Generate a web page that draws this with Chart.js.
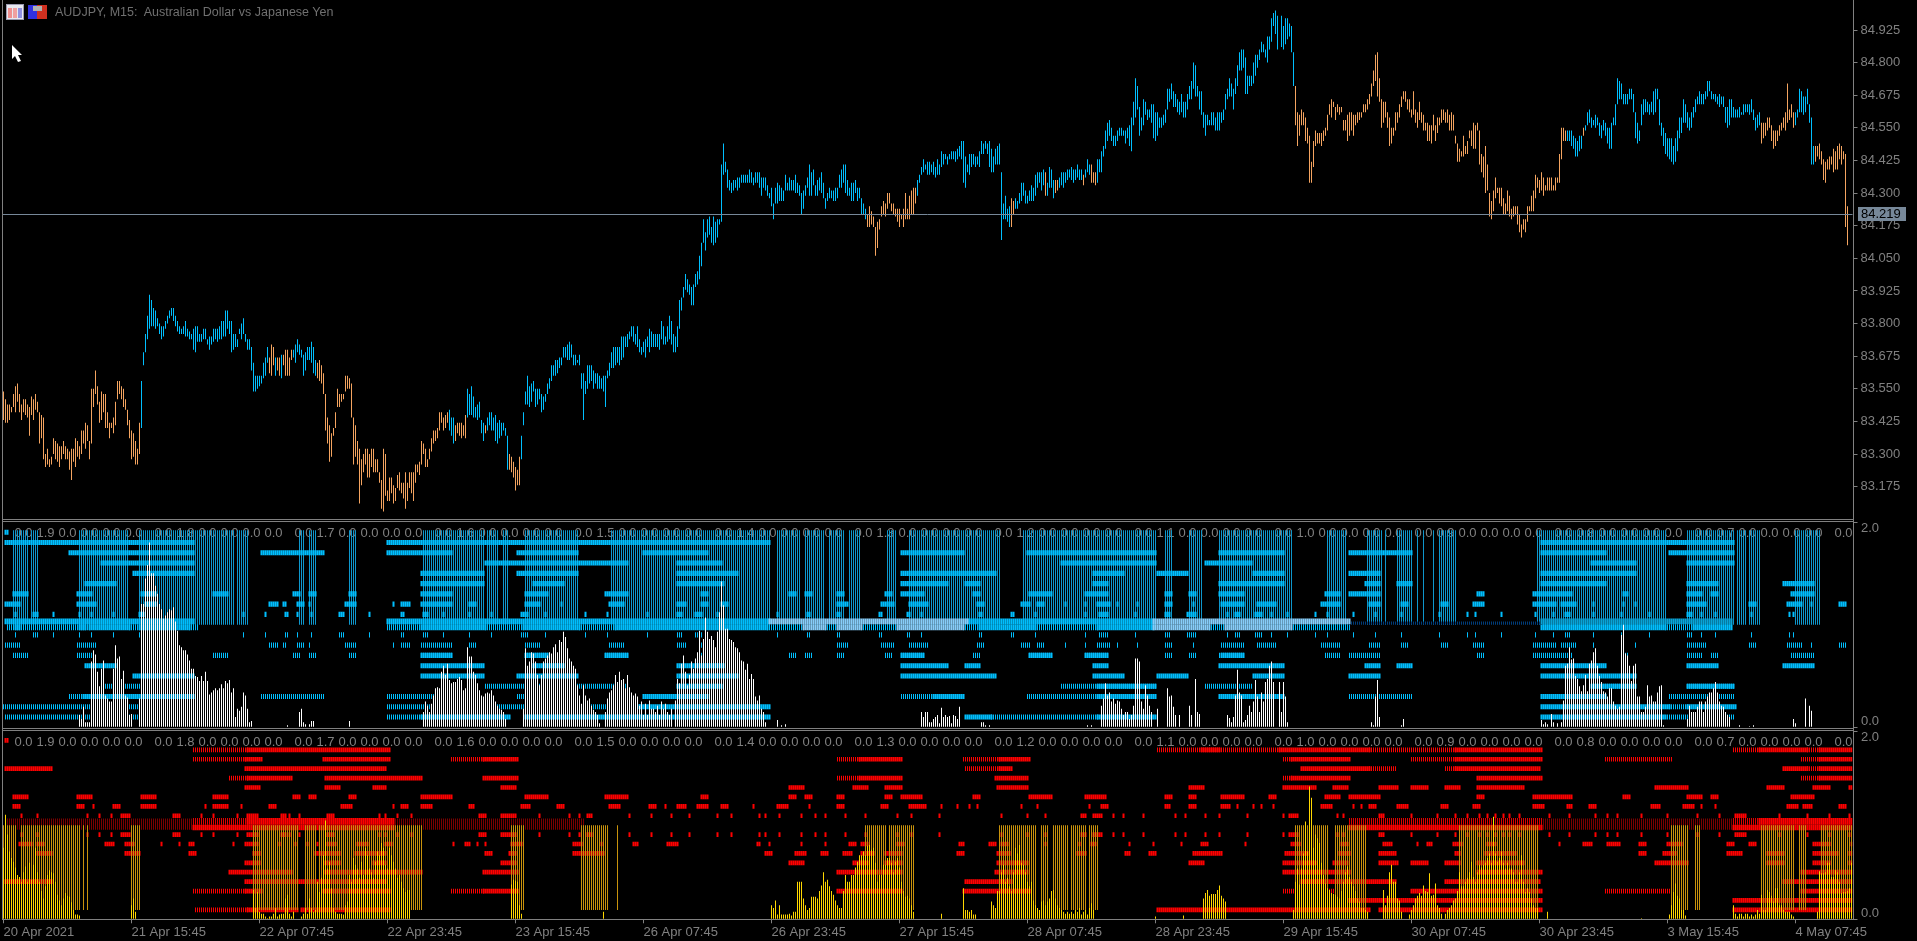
<!DOCTYPE html>
<html>
<head>
<meta charset="utf-8">
<title>AUDJPY M15</title>
<script src="https://cdn.jsdelivr.net/npm/chart.js@4"></script>
<style>
    html, body { margin: 0; background: #000; overflow: hidden; }
    canvas { position: absolute; left: 0; }
    .rule { position: absolute; background: #808080; z-index: 5; }
    .hr { left: 2px; width: 1851px; height: 1px; }
    .vr { top: 0; width: 1px; height: 919px; }
    #title { position: absolute; left: 55px; top: 5px; color: #707070; font: 12.5px 'Liberation Sans'; white-space: pre; z-index: 6; }
    svg { position: absolute; left: 0; top: 0; z-index: 6; }
</style>
</head>
<body>
<canvas id="priceChart" width="1917" height="519" style="top:0"></canvas>
<canvas id="blueChart" width="1917" height="206" style="top:522px"></canvas>
<canvas id="redChart" width="1917" height="210" style="top:731px"></canvas>
<div class="rule hr" style="top:519px"></div>
<div class="rule hr" style="top:521px"></div>
<div class="rule hr" style="top:728px"></div>
<div class="rule hr" style="top:730px"></div>
<div class="rule hr" style="top:919px"></div>
<div class="rule vr" style="left:2px"></div>
<div class="rule vr" style="left:1853px"></div>
<div id="title">AUDJPY, M15:  Australian Dollar vs Japanese Yen</div>
<svg width="60" height="70">
    <rect x="6.5" y="4.5" width="17" height="15" fill="#e8e8f0" stroke="#9a9ab0"/>
    <rect x="8" y="8" width="4" height="10" fill="#f09090"/><rect x="13" y="8" width="4" height="10" fill="#f0a0a0"/><rect x="18" y="8" width="4" height="10" fill="#9090e0"/>
    <rect x="28" y="5" width="9" height="14" fill="#3030e0"/><rect x="37" y="5" width="10" height="14" fill="#d03020"/><rect x="33" y="6" width="9" height="5" fill="#b0b0b0"/>
    <polygon points="12,45 12,59 15,56 18,62 21,61 18,55 22,55" fill="#fff"/>
</svg>
<script>
const barCount = 925;
const timeLabels = ['20 Apr 2021', '21 Apr 15:45', '22 Apr 07:45', '22 Apr 23:45', '23 Apr 15:45', '26 Apr 07:45', '26 Apr 23:45', '27 Apr 15:45', '28 Apr 07:45', '28 Apr 23:45', '29 Apr 15:45', '30 Apr 07:45', '30 Apr 23:45', '3 May 15:45', '4 May 07:45'];
const priceTicks = [84.925, 84.8, 84.675, 84.55, 84.425, 84.3, 84.175, 84.05, 83.925, 83.8, 83.675, 83.55, 83.425, 83.3, 83.175];
const lastPrice = 84.219;
const levelLabels = ['1.9', '1.8', '1.7', '1.6', '1.5', '1.4', '1.3', '1.2', '1.1', '1.0', '0.9', '0.8', '0.7'];

// high,low pairs per bar, in hundredths above 83.00
const priceA = [54,43,51,42,49,42,49,43,48,46,53,48,56,46,57,50,53,46,49,43,51,46,51,45,49,44,48,37,52,45,51,43,53,47,50,46,46,34,45,36,44,28,
30,25,32,26,28,25,29,26,36,30,35,28,34,27,33,25,33,28,35,30,33,28,32,28,31,24,32,20,32,27,36,25,35,29,33,28,39,30,39,34,42,32,
41,35,35,28,55,34,55,48,62,53,56,49,50,42,54,43,53,46,53,40,46,40,42,36,42,40,44,38,50,41,58,51,58,53,56,51,55,48,51,47,47,41,
43,36,39,28,38,29,35,26,32,26,42,30,58,40,69,64,76,69,83,74,91,78,89,79,86,79,85,78,82,79,80,76,79,74,79,75,81,78,83,80,85,82,86,83,86,81,83,79,81,77,79,76,78,76,79,76,81,75,78,75,77,74,76,74,78,70,79,69,79,73,76,73,76,73,78,74,78,74,74,72,75,70,75,72,78,73,78,74,78,73,79,74,81,74,81,75,85,75,85,78,81,76,81,69,76,70,76,71,74,71,78,76,80,74,82,76,76,73,74,70,74,70,71,62,65,54,60,54,60,55,60,56,60,57,65,59,67,60,71,65,67,61,72,60,71,64,67,60,67,62,67,60,68,59,68,64,70,60,70,60,67,60,70,66,70,67,72,65,74,69,72,68,70,67,68,60,69,62,71,66,71,66,73,65,71,61,66,60,65,59,66,58,64,57,61,53,53,39,44,34,41,27,38,29,40,37,46,40,55,48,53,48,53,50,53,51,60,54,60,55,59,55,57,44,44,26,41,29,35,26,32,11,28,18,30,23,32,26,32,21,30,21,32,25,32,23,28,23,28,23,23,19,20,9,32,8,30,14,16,12,21,12,21,15,18,11,17,12,22,17,23,16,19,15,19,13,23,9,19,12,23,17,23,15,23,12,26,19,26,23,27,22,35,26,34,30,32,25,28,25,32,28,36,31,39,34,39,35,40,36,46,39,46,42,44,39,45,40,46,42,47,39,44,37,44,34,41,35,42,38,42,37,42,36,41,37,45,36,55,44,53,45,56,45,52,44,48,44,49,43,50,44,43,38,42,35,41,38,44,39,46,41,46,39,44,39,45,35,42,34,43,36,42,37,42,39,40,37,37,24,30,24,29,23,27,21,25,16,24,18,29,18,37,28,46,41,54,49,60,49,56,48,57,50,58,54,55,48,55,49,55,51,53,46,52,47,53,50,57,53,59,55,64,58,64,60,66,60,66,61,67,63,67,64,71,67,71,67,72,66,73,66,72,67,68,64,68,64,66,65,68,64,61,55,61,43,58,53,64,55,64,57,64,58,62,55,61,57,61,55,60,55,59,55,60,54,60,48,62,59,65,60,69,63,71,63,71,64,71,65,71,64,75,66,75,67,75,71,76,71,77,74,79,75,79,73,76,72,79,71,74,69,73,69];
const priceB = [71,68,73,69,74,67,75,71,78,69,77,71,76,71,76,71,76,71,76,70,81,74,79,72,75,72,79,73,83,74,81,72,76,69,75,69,79,71,89,78,90,85,94,90,99,93,97,92,95,91,94,87,95,87,99,94,100,95,106,97,111,102,120,111,115,108,120,113,121,114,117,111,121,110,119,111,120,113,120,118,141,119,149,137,142,138,139,132,135,131,134,130,135,131,135,132,136,131,136,132,137,134,137,134,137,134,137,134,139,134,138,134,136,133,138,134,138,134,138,132,136,129,136,132,136,131,133,129,130,128,132,125,126,120,132,126,134,126,133,127,132,127,131,127,137,131,134,131,136,131,135,131,135,131,137,130,134,130,133,129,130,122,131,124,133,129,136,132,141,129,138,129,139,133,133,129,135,129,136,131,138,130,134,128,128,124,130,127,132,128,131,128,131,127,132,127,132,128,137,132,139,132,141,134,141,130,135,129,132,129,134,127,134,127,135,130,132,127,132,128,128,122,126,122,124,120,122,117,125,117,123,118,121,117,117,106,119,109,120,116,125,121,127,122,126,121,130,124,130,126,126,123,126,122,124,121,124,119,124,117,122,120,124,117,130,120,124,120,129,120,131,122,132,122,132,126,135,129,137,134,140,137,143,138,141,139,142,137,142,137,141,138,142,137,140,136,143,137,141,137,146,140,145,141,145,143,144,141,145,143,146,143,146,143,146,142,147,143,148,144,150,143,150,134,144,132,141,138,145,137,145,140,145,141,144,140,144,141,146,140,150,145,149,145,150,147,149,145,150,140,147,138,144,138,147,141,148,141,149,141,138,112,126,120,129,120,124,119,125,117,128,117,127,122,128,124,127,124,130,126,134,127,134,129,131,126,129,126,131,127,133,127,132,127,137,129,138,132,138,134,138,131,139,133,138,129,134,129,140,132,139,132,135,128,135,130,135,131,136,132,138,133,138,132,138,134,139,135,139,136,140,135,139,134,139,135,141,136,139,135,139,135,137,133,139,136,143,138,141,137,141,134,138,134,138,133,143,134,143,138,146,138,148,144,154,147,157,150,158,152,155,150,152,148,152,148,154,150,155,152,155,152,154,152,154,149,155,151,156,148,159,146,165,156,174,159,171,162,163,152,159,154,166,156,165,160,162,158,162,159,164,157,164,151,161,150,161,152,159,155,159,155,160,156,162,157,170,162,170,165,172,166,169,163,168,163,166,161,165,160,168,161,165,159,165,159,168,162,171,166,173,166,180,170,179,167,171,167,169,162,169,160,161,155,160,152,160,156,158,156,161,156,161,156,159,154,161,154,161,154,161,157,162,158,168,162,170,166,174,167,172,167,170,162,174,168,179,171,184,177,185,177,185,178,182,168,175,168,175,171,175,171,180,172,183,175,183,178,185,181,188,184,187,184,185,182,190,180,190,185,197,188,199,194,200,191,198,185];
const priceC = [198,186,194,185,197,187,197,189,195,190,194,184,184,171,171,156,161,148,160,152,162,156,161,156,159,150,155,149,152,134,142,134,150,140,154,148,153,149,153,149,153,148,154,150,155,152,160,154,164,160,166,159,165,163,163,158,164,161,163,160,163,161,158,154,158,154,160,150,161,152,161,154,160,152,160,156,161,157,161,158,161,159,164,161,164,161,166,162,168,164,172,167,177,171,183,173,184,167,174,165,166,155,165,157,165,159,161,155,159,148,155,149,155,152,161,154,161,157,164,159,167,163,169,166,169,165,166,162,166,161,162,159,169,160,162,157,161,155,165,158,161,157,160,154,157,154,157,150,156,150,156,149,160,154,156,150,159,153,159,156,162,157,162,158,161,157,162,157,160,154,161,154,160,154,152,149,149,142,147,142,146,144,152,144,148,145,150,145,154,151,154,148,157,147,156,147,157,154,154,141,145,138,144,136,148,130,141,131,130,121,127,120,131,123,136,128,132,130,132,126,132,125,128,122,126,122,131,123,129,121,124,120,125,121,125,122,125,118,122,115,118,113,120,116,120,115,125,119,125,123,129,123,131,123,137,128,136,132,135,130,138,131,136,129,133,131,136,131,136,131,136,131,133,131,136,131,136,134,145,134,155,143,155,150,154,150,154,150,154,150,154,148,152,147,151,144,150,144,152,146,152,147,155,152,156,154,161,156,162,157,159,155,158,156,160,155,159,156,157,152,156,151,158,154,157,152,155,149,155,147,157,147,159,156,164,156,174,164,173,166,172,166,168,164,168,164,168,164,170,166,170,166,168,161,161,151,157,149,154,150,164,156,166,160,166,161,165,161,164,160,165,161,169,160,170,161,170,166,166,156,157,152,155,148,153,145,151,144,151,143,151,142,148,141,151,142,154,146,159,151,159,153,166,157,164,157,161,155,159,154,161,155,163,159,166,161,167,164,169,164,168,164,168,164,169,166,173,167,173,169,169,166,168,166,168,165,167,164,168,163,167,164,167,163,163,157,163,155,166,156,166,159,163,159,162,159,162,159,163,159,161,160,164,160,164,161,164,161,164,160,166,161,162,158,159,154,160,155,161,156,157,149,157,151,157,152,159,154,159,155,156,150,154,147,154,148,154,150,156,152,157,154,159,155,161,154,172,157,162,158,164,159,161,155,161,156,162,159,170,161,169,161,167,160,167,161,170,164,164,157,159,141,148,141,148,142,148,144,149,143,146,141,143,135,142,134,143,139,144,139,144,141,147,138,146,139,148,139,149,143,148,141,146,143,145,117,125,110];
const orangeRuns = [0,68, 133,135, 137,138, 140,144, 157,222, 226,231, 241,241, 253,258, 432,456, 504,505, 521,521, 526,527, 540,540, 544,546, 646,781, 790,790, 879,895, 906,926];

// horizontal marks of the blue window, start,end bar pairs per level
const blue18 = [1,95, 192,383, 769,865];
const blue17 = [33,95, 129,160, 192,224, 257,287, 320,352, 449,480, 512,576, 608,640, 673,704, 769,801, 833,865];
const blue16 = [49,95, 241,312, 337,359, 529,576, 601,624, 794,816, 842,865];
const blue15 = [65,95, 209,240, 257,287, 337,367, 449,496, 545,560, 577,592, 625,640, 673,688, 769,816];
const blue14 = [41,56, 209,240, 265,280, 337,360, 449,472, 481,488, 545,552, 608,640, 681,688, 697,704, 769,801, 842,857, 890,905];
const blue13 = [5,12, 37,44, 69,76, 105,112, 145,148, 153,156, 173,176, 209,224, 261,272, 301,312, 349,352, 393,396, 401,404, 417,420, 441,444, 449,460, 485,488, 513,524, 541,552, 581,584, 593,596, 608,620, 661,668, 673,688, 737,740, 765,784, 810,812, 842,849, 854,857, 894,905];
const blue12 = [1,8, 37,46, 71,76, 133,137, 140,141, 147,150, 153,153, 171,176, 195,195, 199,203, 209,224, 233,236, 261,268, 279,279, 303,310, 337,341, 349,352, 359,362, 417,422, 439,445, 453,462, 487,490, 509,513, 517,520, 531,531, 541,541, 547,553, 557,557, 567,567, 581,584, 595,595, 609,620, 627,636, 659,668, 683,688, 699,702, 719,722, 735,740, 765,776, 779,786, 795,795, 810,810, 816,816, 842,851, 873,876, 892,899, 904,904, 918,921];
const blue11 = [6,6, 15,17, 25,25, 38,38, 44,44, 55,55, 68,70, 120,120, 131,131, 141,142, 147,147, 154,154, 168,170, 183,183, 199,200, 210,212, 220,220, 233,233, 244,244, 259,262, 271,271, 291,291, 302,302, 322,322, 337,339, 346,349, 357,357, 387,387, 402,403, 417,418, 438,439, 452,453, 459,459, 488,489, 504,505, 516,516, 541,541, 548,552, 566,566, 581,583, 592,596, 612,612, 616,618, 626,629, 634,634, 642,642, 656,656, 662,662, 675,675, 686,686, 699,699, 718,718, 732,732, 736,736, 749,749, 766,766, 775,775, 781,783, 795,795, 809,809, 823,823, 842,844, 849,849, 856,856, 874,874, 893,893, 895,895];
const blue07Solid = [209,224, 261,272, 301,312, 449,460, 513,524, 541,552, 609,620];
const blue04Solid = [337,359, 547,576, 794,816, 842,865];
const blue03Solid = [40,95, 320,352, 465,480, 547,576, 608,640, 769,801];
const blue02Stripe = [0,97, 192,318, 833,842];
const blue02Solid = [318,383, 769,833, 842,866];
const blue01Stripe = [1,95, 192,209, 494,547, 832,865];
const blue01Solid = [209,253, 261,383, 481,494, 547,576, 769,831];
const blueColumns = [5,8, 9,12, 14,17, 38,62, 68,95, 96,102, 103,115, 117,122, 148,150, 153,156, 173,176, 210,240, 242,247, 250,252, 261,287, 304,383, 387,398, 401,410, 413,420, 423,428, 442,446, 453,498, 510,576, 581,584, 593,599, 608,644, 662,671, 682,689, 691,691, 697,704, 707,707, 710,710, 715,715, 718,726, 767,831, 842,865, 867,871, 873,878, 896,908];
const blueBandSky = [1,95, 192,383, 482,575];
const blueBandLight = [383,482, 575,673];
const blueBandTeal = [769,864];
const blueBandFaint = [673,769];
const blueLowSky = [6,8, 38,41, 43,63, 68,93, 209,241, 260,288, 306,382, 488,516, 547,575, 769,831, 845,864];
const blueLowLight = [400,411, 417,429, 447,480, 575,603, 611,644];
const blueLowStripe = [2,43, 63,68, 93,97, 192,208, 241,260, 288,306, 382,400, 411,417, 429,447, 480,488, 516,547, 603,611, 644,673, 831,845];

// horizontal marks of the red window
const red18Solid = [122,193, 599,608, 638,683, 726,769, 878,902, 908,926];
const red18Stripe = [95,122, 577,638, 683,726, 865,878, 902,908];
const red17Solid = [121,129, 160,193, 240,257, 428,449, 498,513, 644,673, 726,769, 908,926];
const red17Stripe = [95,121, 224,240, 417,428, 480,498, 640,644, 704,726, 801,834, 899,908];
const red16Solid = [1,24, 121,191, 498,504, 649,683, 726,768, 890,902, 908,926];
const red16Stripe = [481,498, 683,696, 721,726, 902,908];
const red15Solid = [122,144, 161,209, 240,257, 428,449, 496,512, 644,673, 737,769, 908,926];
const red15Stripe = [113,122, 417,428, 640,644, 899,908];
const red14 = [121,128, 161,168, 185,191, 249,256, 393,400, 425,432, 441,449, 497,512, 593,600, 640,656, 665,672, 688,697, 704,712, 721,728, 737,760, 826,842, 882,890, 905,913, 923,926];
const red13 = [5,12, 37,44, 69,76, 105,112, 145,148, 153,156, 173,176, 209,224, 261,272, 301,312, 349,352, 393,396, 401,404, 417,420, 441,444, 449,459, 485,488, 513,524, 541,551, 581,584, 593,596, 609,620, 633,636, 661,668, 673,688, 737,740, 765,784, 810,813, 842,849, 854,857, 894,905];
const red12 = [5,8, 37,40, 45,45, 55,58, 69,76, 101,101, 105,112, 119,119, 133,136, 169,174, 195,195, 199,202, 209,214, 233,235, 259,263, 277,280, 303,308, 323,326, 331,331, 337,341, 347,352, 359,362, 375,375, 387,392, 403,403, 417,420, 439,442, 453,461, 469,469, 477,477, 483,483, 487,487, 509,509, 517,517, 543,543, 549,552, 581,583, 593,596, 609,613, 617,617, 625,625, 629,629, 635,635, 659,664, 675,675, 679,679, 683,686, 697,702, 719,722, 735,738, 765,770, 782,784, 793,796, 824,828, 840,845, 849,849, 856,856, 892,897, 900,904, 918,921];
const red11 = [9,9, 17,17, 42,42, 48,48, 54,54, 59,63, 85,88, 99,99, 105,105, 117,117, 122,127, 139,141, 143,143, 148,148, 162,165, 188,188, 191,191, 197,197, 204,204, 238,241, 249,256, 268,268, 283,283, 288,288, 292,294, 313,313, 324,324, 334,334, 343,343, 357,357, 364,364, 378,378, 381,381, 388,388, 399,399, 406,406, 411,411, 421,421, 431,431, 447,447, 454,454, 468,468, 499,499, 512,512, 521,521, 539,541, 545,549, 555,555, 560,560, 570,570, 586,586, 591,591, 601,601, 608,608, 622,622, 640,640, 643,647, 667,667, 670,670, 688,690, 704,704, 717,717, 726,726, 732,732, 738,738, 742,742, 746,746, 750,750, 753,753, 758,758, 773,773, 783,783, 796,796, 802,802, 807,807, 819,819, 832,832, 847,847, 858,858, 866,871, 888,888, 902,902, 913,913, 923,923];
const red08 = [8,14, 17,20, 51,55, 61,65, 79,79, 88,88, 93,95, 115,115, 121,127, 138,138, 146,146, 152,152, 157,157, 162,166, 177,182, 191,194, 225,225, 231,233, 237,237, 241,241, 254,259, 285,289, 299,299, 315,317, 332,337, 377,378, 383,383, 399,399, 411,411, 423,426, 429,432, 447,450, 478,480, 493,496, 499,502, 521,521, 538,538, 544,546, 563,563, 575,575, 589,589, 599,602, 621,621, 644,648, 669,672, 690,694, 707,707, 712,714, 725,729, 742,746, 778,778, 790,794, 802,808, 818,821, 832,839, 862,865, 873,876, 905,913, 924,926];
const red07 = [17,24, 61,68, 93,96, 125,128, 156,168, 176,191, 241,244, 253,256, 285,300, 381,384, 396,401, 409,412, 420,424, 429,435, 441,449, 477,480, 497,503, 537,541, 561,563, 573,576, 595,609, 641,652, 668,673, 688,696, 726,728, 741,756, 818,821, 830,836, 862,869, 882,890, 905,917, 923,926];
const red05 = [113,144, 161,209, 240,257, 417,449, 496,512, 640,673, 737,769, 899,926];
const red04 = [1,24, 121,191, 481,504, 649,696, 721,768, 890,926];
const red03 = [121,129, 160,193, 240,257, 417,449, 480,513, 704,769, 899,926];
const red03Stripe = [95,121, 224,240, 640,673, 801,834];
const red02 = [673,769, 865,926];
const red01 = [122,147, 149,193, 577,683, 688,769, 865,926];
const red01Stripe = [1,3, 96,122];
const redBandUpper = [122,195, 878,926];
const redBandUpperStripe = [95,122, 673,769, 865,878];
const redBandLower = [95,195, 673,769, 865,926];
const redBandFaint = [1,95, 196,290, 769,865];

// dim columns of the red window, 1.0 down to 0.1
const goldColumns = [0,6, 9,38, 40,40, 42,42, 64,68, 125,147, 151,156, 158,209, 254,260, 289,302, 307,307, 431,441, 443,455, 498,516, 519,522, 525,532, 534,541, 543,547, 646,662, 666,681, 728,767, 834,842, 846,848, 879,895, 898,901, 909,925];

// histograms: first entry is the first bar of the run, the rest are values in hundredths
const whiteHist = [
    [38, 12,8,20,5,5,5,64,75,71,54,40,57,65,31,28,25,25,57,80,67,69,47,55,31,29,12,13],
    [68, 28,120,120,145,158,180,150,150,138,130,120,115,106,109,112,115,114,117,103,94,80,78,75,75,71,65,57,57,50,49,45,50,45,54,45,32,34,36,38,36,38,42,38,45,43,46,34,38,10,18,16,20,34,31,18,5,6],
    [142, 2], [148, 15,18,5,3], [153, 3,6,6], [173, 6],
    [210, 15,25,21,15,23,31,38,39,38,54,60,51,62,46,43,44,44,47,49,46,36,38,78,69,69,54,51,43,36,31,30,33,34,33,36,31,25,21,18,17,15,8],
    [260, 18,77,60,64,73,72,64,51,41,51,64,67,70,73,72,78,81,73,85,83,93,88,77,67,64,60,57,41,31,23,41,31,26,28,21,17,15,12,4],
    [301, 15,28,34,36,41,51,44,54,46,47,38,51,39,34,31,33,30,21],
    [319, 25,12,23,12,26,18,18,15,21,12,25,18,23,15,12,18],
    [336, 26,47,43,62,70,54,41,51,64,57,67,73,94,70,86,107,93,86,89,85,78,93,112,142,119,96,96,86,85,83,78,77,73,65,64,56,62,47,52,47,30,26,31,18,15,5],
    [387, 7], [389, 2], [391, 3],
    [459, 15,10,15,15,5,5,8,10,12,4,19,10,12,10,11,4,12,11,8,20],
    [489, 5,5,2], [493, 2], [542, 2], [544, 2],
    [549, 21,28,43,31,34,25,28,23,26,25,18,12,15,15,8,12,21,67,67,64,25,18,41,31,21,15],
    [577, 18], [582, 38,30,31,20,12], [588, 12], [593, 21,12], [596, 47,15,13],
    [612, 12,9,5,10,31,56,34,31,5,7,12,21,15,25,46,30,15,34,25,44,47,60,64,44],
    [638, 44,15,44,30,5],
    [684, 5,2,30,46,10], [699, 2,8],
    [769, 7,3,5,3,0,13,5,0,4,0,5,26,60,62,78,66,67,50,47,40,35,41,51,35,62,65,73,77,60,50,44,35,34,30,38,38,25,21,18,20,90,100,72,70,60,45,60,62,30,30,15,15,20,41,30,31,25,25,34,40,41,2],
    [842, 8,21,15,15,15,20,25,25,15,25,30,34,34,38,44,34,25,21,20,15,12,10],
    [868, 2], [873, 1], [875, 2],
    [895, 8,4], [901, 28], [903, 21,16]
];
const yellowHist = [
    [0, 76,111,90,72,65,61,55,47,45,40,50,56,40,60,42,58,76,50,40,30,22,35,47,52,50,49,40,26,20,15,22,28,25,24,18,10,5,5,4],
    [64, 15,22,8],
    [125, 31,12,29,8,6,6,3,1,3,3,6,12,3,5,6,6,22,26,6,3,8],
    [149, 3,6,12,6,22,12,8,10,40,29,44,68,105,54,61,33,12,8,6,6,6,5,15,19,47,40,65,58,54,44,61,47,76,68,54,50,44,61,72,68,81,76,58,54,76,68,61,54,44,47,40,33,29,31,31],
    [254, 37,42,41,40,15,6],
    [300, 8],
    [384, 15,12,20,5,15,5,5,5,5,6,4,8,8,40,40,40,22,15,10,12,24,24,24,22,30,36,50,40,42,35,30,26,20,15,12,12,30,47,40,40,47,47,55,61,68,68,72,68,78,79,74,76,60,40,47,47,58,58,65,65,60,50,61,65,55,40,30,24,25,22,15,8],
    [469, 6],
    [480, 33,10,10,8,10,5,5],
    [494, 19,15,12,30,30,50,58,40,44,35,30,50,76,70,79,60,58,50,40,35,40,20,15,12,10,19,20,15,19,22,30,31,22,15,12,10,8,6,8,6,8,6,10,8,12,5,8,10,5,12,17,10],
    [576, 3], [590, 4],
    [600, 22,28,31,25,27,27,27,31,36,25,22,19],
    [645, 10,40,54,37,54,70,104,72,141,129,76,90,86,81,60,47,38,33,31,28,27,26,24,22,30,40,50,56,45,40,35,30,22,19,12,12,10,8],
    [690, 31,15,25,50,58,40,40,22,20,8],
    [703, 5,10,15,22,25,28,25,36,30,29,49,25,26,38,15,12,6],
    [721, 6,10,12,15,20,22,30,50,35,35,40,44,50,61,45,40,50,58,55,58,60,65,70,60,109,70,61,65,72,60,54,60,54,54,50,40,40,50,68,40,29,33,29,22,15,12,12],
    [772, 8], [819, 1],
    [833, 5,15,29,38,25,22,10,10,4],
    [865, 15,6,3,6,6,3,6,6,3,5,3,5,10,6,26,10,10,31,29,25,19,33,33,15,15,10,8,8,8,5,3],
    [907, 8,51,49,49,50,60,60,45,45,52,50,40,28,29,29,30,33,60,102]
];

const barLabels = Array.from({ length: barCount }, (_, i) => i);

function emptySeries() {
    return new Array(barCount).fill(null);
}

function fromRuns(runs, low, high) {
    const data = emptySeries();
    for (let r = 0; r < runs.length; r += 2) {
        for (let i = runs[r]; i <= runs[r + 1] && i < barCount; i++) {
            data[i] = [low, high];
        }
    }
    return data;
}

function fromHist(hist) {
    const data = emptySeries();
    hist.forEach((run) => {
        run.slice(1).forEach((v, i) => {
            data[run[0] + i] = [0, v / 100];
        });
    });
    return data;
}

function priceSeries() {
    const data = emptySeries();
    [[0, priceA], [319, priceB], [639, priceC]].forEach(([start, pairs]) => {
        for (let p = 0; p + 1 < pairs.length; p += 2) {
            const bar = start + p / 2;
            if (bar < barCount) data[bar] = [83 + pairs[p + 1] / 100, 83 + pairs[p] / 100];
        }
    });
    return data;
}

function isOrange(bar) {
    for (let r = 0; r < orangeRuns.length; r += 2) {
        if (bar >= orangeRuns[r] && bar <= orangeRuns[r + 1]) return true;
    }
    return false;
}

function barSet(data, color, thickness) {
    return { data, backgroundColor: color, barThickness: thickness, grouped: false, borderWidth: 0, inflateAmount: 0 };
}

function rowSet(runs, level, color, thickness) {
    return barSet(fromRuns(runs, level - 0.025, level + 0.025), color, thickness);
}

const FONT = { family: 'Liberation Sans', size: 13 };
const GREY = '#808080';

function xScale(show) {
    return {
        display: show,
        offset: true,
        grid: { drawOnChartArea: false, tickLength: 4, color: GREY, offset: false },
        border: { display: false },
        afterBuildTicks: (scale) => { scale.ticks = timeLabels.map((_, i) => ({ value: i * 64 })); },
        afterFit: (scale) => {
            scale.height = show ? 21.7 : 0;
            scale.paddingLeft = 0;
            scale.paddingRight = 0;
        },
        ticks: {
            autoSkip: false, maxRotation: 0, align: 'start', color: GREY, font: FONT, padding: 1,
            callback: (value, i) => timeLabels[i]
        }
    };
}

function yScale(min, max, values, showLabels, format) {
    return {
        position: 'right', min, max,
        grid: { drawOnChartArea: false, tickLength: 5, color: GREY },
        border: { display: false },
        afterBuildTicks: (scale) => { scale.ticks = values.map((value) => ({ value })); },
        afterFit: (scale) => {
            scale.width = 64.5;
            scale.paddingTop = 0;
            scale.paddingBottom = 0;
        },
        ticks: { display: showLabels, color: GREY, font: FONT, padding: 3, crossAlign: 'near', callback: format }
    };
}

function baseOptions(x, y) {
    return {
        responsive: false,
        animation: false,
        events: [],
        layout: { padding: { left: 2.5, right: 0, top: 0, bottom: 0 } },
        plugins: { legend: { display: false }, tooltip: { enabled: false } },
        scales: { x, y }
    };
}

// gray number row along the top of the indicator windows, plus the 2.0 / 0.0 labels
const windowText = {
    id: 'windowText',
    beforeDatasetsDraw(chart) {
        const { ctx, scales } = chart;
        ctx.save();
        ctx.font = "13px 'Liberation Sans'";
        ctx.fillStyle = GREY;
        ctx.textBaseline = 'middle';
        ctx.textAlign = 'center';
        const drawAt = (bar, text) => ctx.fillText(text, scales.x.getPixelForValue(bar), 11);
        levelLabels.forEach((label, k) => {
            const bar = 21 + 70 * k;
            drawAt(bar - 11, '0.0');
            drawAt(bar, label);
            [11, 22, 33, 44].forEach((step) => drawAt(bar + step, '0.0'));
        });
        drawAt(920, '0.0');
        ctx.textAlign = 'left';
        ctx.fillText('2.0', 1861, scales.y.getPixelForValue(2) + 6);
        ctx.fillText('0.0', 1861, scales.y.getPixelForValue(0) - 6);
        ctx.restore();
    }
};

const lastPriceLine = {
    id: 'lastPriceLine',
    afterDraw(chart) {
        const { ctx, chartArea, scales } = chart;
        const y = Math.round(scales.y.getPixelForValue(lastPrice)) + 0.5;
        ctx.save();
        ctx.strokeStyle = '#778899';
        ctx.beginPath();
        ctx.moveTo(chartArea.left, y);
        ctx.lineTo(chartArea.right, y);
        ctx.stroke();
        ctx.fillStyle = '#778899';
        ctx.fillRect(1858, y - 7.5, 48, 14);
        ctx.fillStyle = '#000';
        ctx.font = "13px 'Liberation Sans'";
        ctx.textBaseline = 'middle';
        ctx.fillText(lastPrice.toFixed(3), 1861, y);
        ctx.restore();
    }
};

new Chart(document.getElementById('priceChart'), {
    type: 'bar',
    data: {
        labels: barLabels,
        datasets: [barSet(priceSeries(), (c) => (isOrange(c.dataIndex) ? '#F4A460' : '#00BFFF'), 1)]
    },
    options: baseOptions(xScale(false), yScale(83.051, 85.04, priceTicks, true, (v) => v.toFixed(3))),
    plugins: [lastPriceLine]
});

const SKY = '#00BFFF';
const LIGHT = '#87CEFA';
new Chart(document.getElementById('blueChart'), {
    type: 'bar',
    data: {
        labels: barLabels,
        datasets: [
            barSet(fromHist(whiteHist), '#ffffff', 1),
            rowSet([1, 2], 1.9, SKY, 2),
            rowSet(blue18, 1.8, SKY, 2), rowSet(blue17, 1.7, SKY, 2), rowSet(blue16, 1.6, SKY, 2),
            rowSet(blue15, 1.5, SKY, 2), rowSet(blue14, 1.4, SKY, 2), rowSet(blue13, 1.3, SKY, 2),
            rowSet(blue12, 1.2, SKY, 2), rowSet(blue11, 1.1, SKY, 2),
            rowSet(blue11, 0.9, SKY, 1), rowSet(blue12, 0.8, SKY, 1),
            rowSet(blue13, 0.7, SKY, 1), rowSet(blue07Solid, 0.7, SKY, 2),
            rowSet(blue14, 0.6, SKY, 2), rowSet(blue15, 0.5, SKY, 2),
            rowSet(blue16, 0.4, SKY, 1), rowSet(blue04Solid, 0.4, SKY, 2),
            rowSet(blue17, 0.3, SKY, 1), rowSet(blue03Solid, 0.3, SKY, 2),
            rowSet(blue02Stripe, 0.2, SKY, 1), rowSet(blue02Solid, 0.2, SKY, 2),
            rowSet(blue01Stripe, 0.1, SKY, 1), rowSet(blue01Solid, 0.1, SKY, 2),
            barSet(fromRuns(blueBandLight, 1.003, 1.06), LIGHT, 2),
            barSet(fromRuns(blueBandSky, 1.003, 1.06), SKY, 2),
            barSet(fromRuns(blueBandTeal, 1.003, 1.06), '#08a4d8', 2),
            barSet(fromRuns(blueBandFaint, 1.0, 1.03), '#003c78', 1),
            barSet(fromRuns(blueLowLight, 0.945, 1.003), LIGHT, 2),
            barSet(fromRuns(blueLowSky, 0.945, 1.003), SKY, 2),
            barSet(fromRuns(blueLowStripe, 0.945, 1.003), SKY, 1),
            barSet(fromRuns(blueColumns, 1.0, 1.92), '#0e97cc', 1)
        ]
    },
    options: baseOptions(xScale(false), yScale(-0.007, 2, [2, 0], false)),
    plugins: [windowText]
});

const RED = '#ff0000';
new Chart(document.getElementById('redChart'), {
    type: 'bar',
    data: {
        labels: barLabels,
        datasets: [
            barSet(fromHist(yellowHist), '#FFD700', 1),
            barSet(fromRuns(goldColumns, 0.1, 1.0), '#C8920C', 1),
            rowSet([1, 2], 1.9, RED, 2),
            rowSet(red18Solid, 1.8, RED, 2), rowSet(red18Stripe, 1.8, RED, 1),
            rowSet(red17Solid, 1.7, RED, 2), rowSet(red17Stripe, 1.7, RED, 1),
            rowSet(red16Solid, 1.6, RED, 2), rowSet(red16Stripe, 1.6, RED, 1),
            rowSet(red15Solid, 1.5, RED, 2), rowSet(red15Stripe, 1.5, RED, 1),
            rowSet(red14, 1.4, RED, 2), rowSet(red13, 1.3, RED, 2), rowSet(red12, 1.2, RED, 2), rowSet(red11, 1.1, RED, 2),
            rowSet(red11, 0.9, RED, 2), rowSet(red08, 0.8, RED, 2), rowSet(red07, 0.7, RED, 2),
            rowSet(red14, 0.6, RED, 2), rowSet(red05, 0.5, RED, 2), rowSet(red04, 0.4, RED, 2),
            rowSet(red03, 0.3, RED, 2), rowSet(red03Stripe, 0.3, RED, 1),
            rowSet(red02, 0.2, RED, 2),
            rowSet(red01, 0.1, RED, 2), rowSet(red01Stripe, 0.1, RED, 1),
            barSet(fromRuns(redBandUpper, 1.003, 1.075), RED, 2),
            barSet(fromRuns(redBandUpperStripe, 1.003, 1.075), '#e00000', 1),
            barSet(fromRuns(redBandLower, 0.945, 1.003), RED, 2),
            barSet(fromRuns(redBandFaint, 0.95, 1.07), '#7a0000', 1)
        ]
    },
    options: baseOptions(xScale(true), yScale(0, 2, [2, 0], false)),
    plugins: [windowText]
});
</script>
</body>
</html>
